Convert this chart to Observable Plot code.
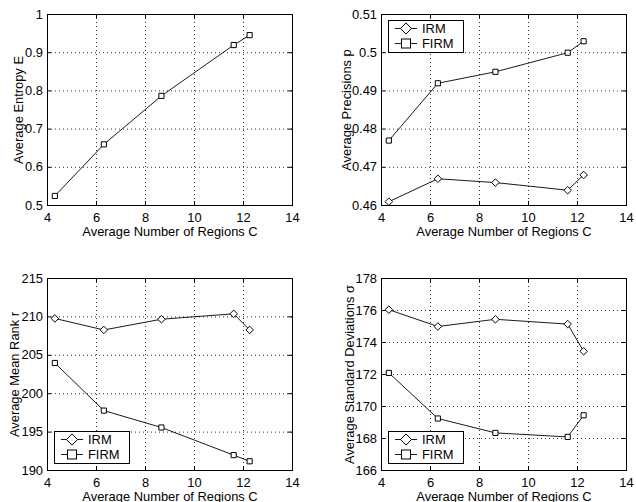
<!DOCTYPE html>
<html><head><meta charset="utf-8">
<script src="https://cdn.jsdelivr.net/npm/d3@7"></script>
<script src="https://cdn.jsdelivr.net/npm/@observablehq/plot@0.6"></script>
<style>
body{margin:0;background:#fff}
#fig{position:relative;width:636px;height:502px;font-family:"Liberation Sans",Arial,sans-serif;overflow:hidden}
#fig > svg{position:absolute}
</style></head><body><div id="fig"></div>
<script>
const regionsC = [4.3, 6.3, 8.65, 11.6, 12.25];
const entropyE = [0.525, 0.66, 0.787, 0.92, 0.946];
const precisionIRM = [0.461, 0.467, 0.466, 0.464, 0.468];
const precisionFIRM = [0.477, 0.492, 0.495, 0.500, 0.503];
const rankIRM = [209.8, 208.3, 209.7, 210.4, 208.3];
const rankFIRM = [204.0, 197.8, 195.6, 192.0, 191.2];
const sdIRM = [176.05, 175.0, 175.45, 175.15, 173.45];
const sdFIRM = [172.1, 169.25, 168.35, 168.1, 169.45];
const xTicks = [4, 6, 8, 10, 12, 14];
const entropyTicks = [0.5, 0.6, 0.7, 0.8, 0.9, 1];
const precisionTicks = [0.46, 0.47, 0.48, 0.49, 0.5, 0.51];
const rankTicks = [190, 195, 200, 205, 210, 215];
const sdTicks = [166, 168, 170, 172, 174, 176, 178];
const xLabel = "Average Number of Regions C";
const seriesNames = ["IRM", "FIRM"];

const FONT = "12.9px";
const fig = document.getElementById("fig");

function panel(o) {
  const fw = o.width - o.ml - o.mr, fh = o.height - o.mt - o.mb;
  const fmt = d => String(d);
  const marks = [
    Plot.gridX(xTicks.slice(1, -1), {stroke: "#000", strokeOpacity: 1, strokeWidth: 0.8, strokeDasharray: "1,3"}),
    Plot.gridY(o.yTicks.slice(1, -1), {stroke: "#000", strokeOpacity: 1, strokeWidth: 0.8, strokeDasharray: "1,3"}),
    Plot.tickX(xTicks, {x: d => d, insetTop: fh - 4, stroke: "#000"}),
    Plot.tickX(xTicks, {x: d => d, insetBottom: fh - 4, stroke: "#000"}),
    Plot.tickY(o.yTicks, {y: d => d, insetRight: fw - 4, stroke: "#000"}),
    Plot.tickY(o.yTicks, {y: d => d, insetLeft: fw - 4, stroke: "#000"}),
    Plot.axisX(xTicks, {tickSize: 0, tickPadding: 7, tickFormat: fmt, label: xLabel, labelArrow: "none", labelAnchor: "center", labelOffset: o.xLabelOffset}),
    Plot.axisY(o.yTicks, {tickSize: 0, tickPadding: 4.5, tickFormat: fmt, label: o.yLabel, labelArrow: "none", labelAnchor: "center", labelOffset: o.yLabelOffset})
  ];
  for (const s of o.series) {
    const rows = regionsC.map((c, i) => ({c, v: s.values[i]}));
    marks.push(Plot.line(rows, {x: "c", y: "v", stroke: "#000", strokeWidth: 0.9}));
    marks.push(Plot.dot(rows, {x: "c", y: "v", symbol: s.symbol, r: s.symbol === "square" ? 2.9 : 3.4, stroke: "#000", strokeWidth: 1, fill: "#fff"}));
  }
  marks.push(Plot.frame({stroke: "#000", strokeWidth: 1}));
  const svg = Plot.plot({
    width: o.width, height: o.height,
    marginLeft: o.ml, marginRight: o.mr, marginTop: o.mt, marginBottom: o.mb,
    x: {domain: [4, 14]},
    y: {domain: [o.yTicks[0], o.yTicks[o.yTicks.length - 1]]},
    style: {fontFamily: '"Liberation Sans", Arial, sans-serif', fontSize: FONT, background: "transparent", color: "#000", overflow: "visible"},
    marks
  });
  svg.style.left = o.left + "px";
  svg.style.top = o.top + "px";
  fig.appendChild(svg);
}

function legend(left, top) {
  const ns = "http://www.w3.org/2000/svg";
  const svg = document.createElementNS(ns, "svg");
  svg.setAttribute("width", 76); svg.setAttribute("height", 33);
  svg.style.left = left + "px"; svg.style.top = top + "px";
  const symbols = ["diamond2", "square"];
  let html = `<rect x="0.5" y="0.5" width="75" height="32" fill="#fff" stroke="#000"/>`;
  seriesNames.forEach((name, i) => {
    const cy = 8.5 + i * 15;
    html += `<line x1="7" x2="29" y1="${cy}" y2="${cy}" stroke="#000" stroke-width="0.9"/>`;
    if (symbols[i] === "square") html += `<rect x="13.5" y="${cy - 4.5}" width="9" height="9" fill="#fff" stroke="#000"/>`;
    else html += `<path d="M18,${cy - 5.6}L23.5,${cy}L18,${cy + 5.6}L12.5,${cy}Z" fill="#fff" stroke="#000"/>`;
    html += `<text x="34" y="${cy}" dy="0.35em" font-size="${FONT}" font-family="Liberation Sans, Arial, sans-serif">${name}</text>`;
  });
  svg.innerHTML = html;
  fig.appendChild(svg);
}

panel({left: 0, top: 0, width: 318, height: 250, ml: 47, mr: 26, mt: 14, mb: 45,
  yTicks: entropyTicks, yLabel: "Average Entropy E", xLabelOffset: 30, yLabelOffset: 34,
  series: [{values: entropyE, symbol: "square"}]});
panel({left: 318, top: 0, width: 318, height: 250, ml: 63, mr: 10, mt: 14, mb: 45,
  yTicks: precisionTicks, yLabel: "Average Precisions p", xLabelOffset: 30, yLabelOffset: 40,
  series: [{values: precisionIRM, symbol: "diamond2"}, {values: precisionFIRM, symbol: "square"}]});
panel({left: 0, top: 250, width: 318, height: 252, ml: 47, mr: 26, mt: 28, mb: 32,
  yTicks: rankTicks, yLabel: "Average Mean Rank r", xLabelOffset: 30, yLabelOffset: 38,
  series: [{values: rankIRM, symbol: "diamond2"}, {values: rankFIRM, symbol: "square"}]});
panel({left: 318, top: 250, width: 318, height: 252, ml: 63, mr: 10, mt: 28, mb: 32,
  yTicks: sdTicks, yLabel: "Average Standard Deviations σ", xLabelOffset: 30, yLabelOffset: 37,
  series: [{values: sdIRM, symbol: "diamond2"}, {values: sdFIRM, symbol: "square"}]});

legend(388, 20);
legend(54, 431);
legend(388, 431);
</script></body></html>
